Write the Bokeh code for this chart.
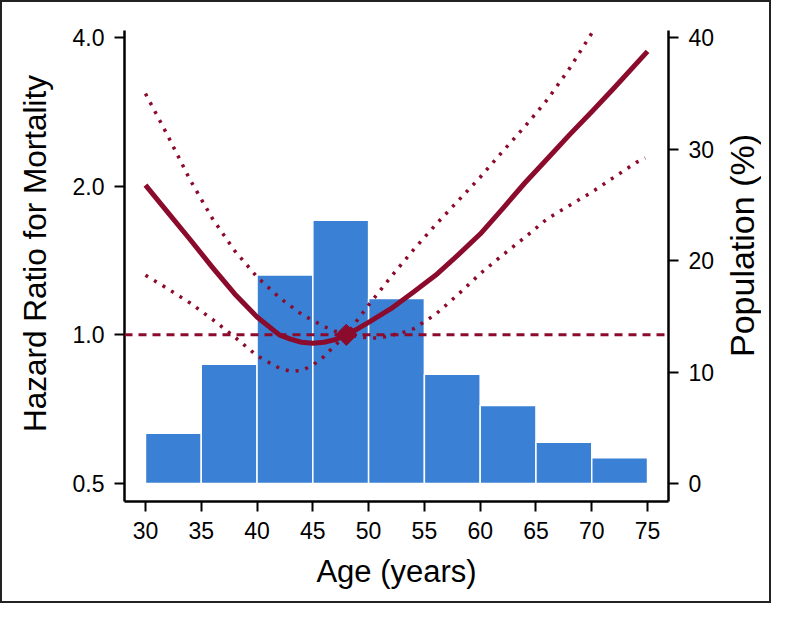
import math
from bokeh.plotting import figure
from bokeh.layouts import row
from bokeh.models import (Range1d, LinearAxis, LinearScale, FixedTicker,
                          PrintfTickFormatter, Span, ColumnDataSource, Div)
from bokeh.embed import file_html
from bokeh.resources import INLINE

# ---- data ----
bin_left = [30, 35, 40, 45, 50, 55, 60, 65, 70]
bin_right = [35, 40, 45, 50, 55, 60, 65, 70, 75]
pop_pct = [4.5, 10.7, 18.7, 23.6, 16.6, 9.8, 7.0, 3.7, 2.3]

ages_fit = [30, 32, 34, 36, 38, 40, 42, 43, 44, 45, 46, 47, 48, 49, 50, 52, 54, 56,
            58, 60, 62, 64, 66, 68, 70, 72, 75]
hr_fit = [2.01, 1.77, 1.56, 1.37, 1.21, 1.087, 1.0, 0.98, 0.966, 0.962, 0.966, 0.978,
          1.0, 1.028, 1.06, 1.13, 1.22, 1.32, 1.45, 1.60, 1.80, 2.03, 2.27, 2.54, 2.83,
          3.16, 3.75]

ages_ci_a = [30, 32, 34, 36, 38, 40, 42, 44, 46, 47, 48, 49, 50, 51, 52, 53, 54, 56, 58,
             60, 62, 64, 66, 68, 70, 72, 74, 74.8]
hr_ci_a = [3.08, 2.53, 2.06, 1.72, 1.48, 1.31, 1.19, 1.10, 1.04, 1.017, 1.0, 0.992, 0.986,
           0.986, 0.997, 1.01, 1.028, 1.10, 1.206, 1.33, 1.45, 1.575, 1.717, 1.828, 1.945,
           2.085, 2.235, 2.28]

ages_ci_b = [30, 32, 34, 36, 38, 40, 42, 43, 44, 45, 46, 47, 48, 50, 52, 54, 56, 58, 60,
             62, 64, 66, 68, 70, 70.3]
hr_ci_b = [1.32, 1.24, 1.16, 1.075, 0.99, 0.907, 0.856, 0.844, 0.847, 0.868, 0.904, 0.953,
           1.0, 1.149, 1.31, 1.485, 1.67, 1.866, 2.085, 2.35, 2.64, 2.99, 3.46, 4.08, 4.2]

ref_age = [48]
ref_hr = [1.0]

x_ticks = [30, 35, 40, 45, 50, 55, 60, 65, 70, 75]
hr_ticks = [0.5, 1.0, 2.0, 4.0]
pop_ticks = [0, 10, 20, 30, 40]

RED = "#8B0B2C"
BLUE = "#3A80D4"
FONT = "Liberation Sans"

fig = figure(width=662, height=599, output_backend="svg", toolbar_location=None,
             y_axis_type="log",
             x_range=Range1d(28.12, 76.88), y_range=Range1d(0.4598, 4.133),
             min_border_left=62, min_border_right=56, min_border_top=28,
             min_border_bottom=100)
fig.extra_y_ranges = {"pop": Range1d(-1.614, 40.628)}
fig.extra_y_scales = {"pop": LinearScale()}
fig.outline_line_color = None
fig.xgrid.visible = False
fig.ygrid.visible = False
fig.background_fill_color = "white"
fig.border_fill_color = "white"

# histogram bars on the population scale
src_bars = ColumnDataSource(dict(left=bin_left, right=bin_right,
                                 top=pop_pct, bottom=[0] * len(pop_pct)))
fig.quad(left="left", right="right", top="top", bottom="bottom", source=src_bars,
         y_range_name="pop", fill_color=BLUE, line_color="white", line_width=1.5)

# reference line HR = 1
fig.add_layout(Span(location=1.0, dimension="width", line_color=RED, line_width=3,
                    line_dash="8 6"))

# confidence limits
fig.line(ages_ci_a, hr_ci_a, line_color=RED, line_width=3.5, line_dash="3 7")
fig.line(ages_ci_b, hr_ci_b, line_color=RED, line_width=3.5, line_dash="3 7")

# fitted hazard ratio
fig.line(ages_fit, hr_fit, line_color=RED, line_width=5, line_join="round")
fig.scatter(ref_age, ref_hr, marker="square", angle=math.pi / 4, size=15,
            fill_color=RED, line_color=RED)

# axes
right = LinearAxis(y_range_name="pop")
fig.add_layout(right, "right")

fig.xaxis.ticker = FixedTicker(ticks=x_ticks)
fig.yaxis[0].ticker = FixedTicker(ticks=hr_ticks)
fig.yaxis[0].formatter = PrintfTickFormatter(format="%.1f")
right.ticker = FixedTicker(ticks=pop_ticks)

fig.xaxis.axis_label = "Age (years)"

for ax in [fig.xaxis[0], fig.yaxis[0], right]:
    ax.axis_line_width = 2.5
    ax.axis_line_color = "black"
    ax.major_tick_line_width = 2
    ax.major_tick_line_color = "black"
    ax.major_tick_out = 10
    ax.major_tick_in = 0
    ax.minor_tick_line_color = None
    ax.major_label_text_font = FONT
    ax.major_label_text_font_size = "23px"
    ax.major_label_text_color = "black"
    ax.major_label_standoff = 10
    ax.axis_label_text_font = FONT
    ax.axis_label_text_font_size = "31px"
    ax.axis_label_text_font_style = "normal"
    ax.axis_label_text_color = "black"
    ax.axis_label_standoff = 12


def vertical_title(text, box_w, left, top, length, size):
    html = (
        f'<div style="position:relative;width:{box_w}px;height:599px;background:white;">'
        f'<div style="position:absolute;left:{left}px;top:{top}px;width:{size}px;'
        f'height:{length}px;writing-mode:vertical-rl;transform:rotate(180deg);'
        f'text-align:center;line-height:{size}px;font-family:\'{FONT}\';'
        f'font-size:{size}px;color:black;white-space:nowrap;">{text}</div></div>'
    )
    return Div(text=html, width=box_w, height=599, margin=(0, 0, 0, 0))


# axis titles reading bottom to top, placed as in the original
left_title = vertical_title("Hazard Ratio for Mortality", 60, 18, 69, 364, 31.5)
right_title = vertical_title("Population (%)", 45, 1, 125, 236, 34)

p = row(left_title, fig, right_title, spacing=0,
        styles={"border": "2px solid #222"})

open("out.html", "w").write(file_html(p, INLINE))
